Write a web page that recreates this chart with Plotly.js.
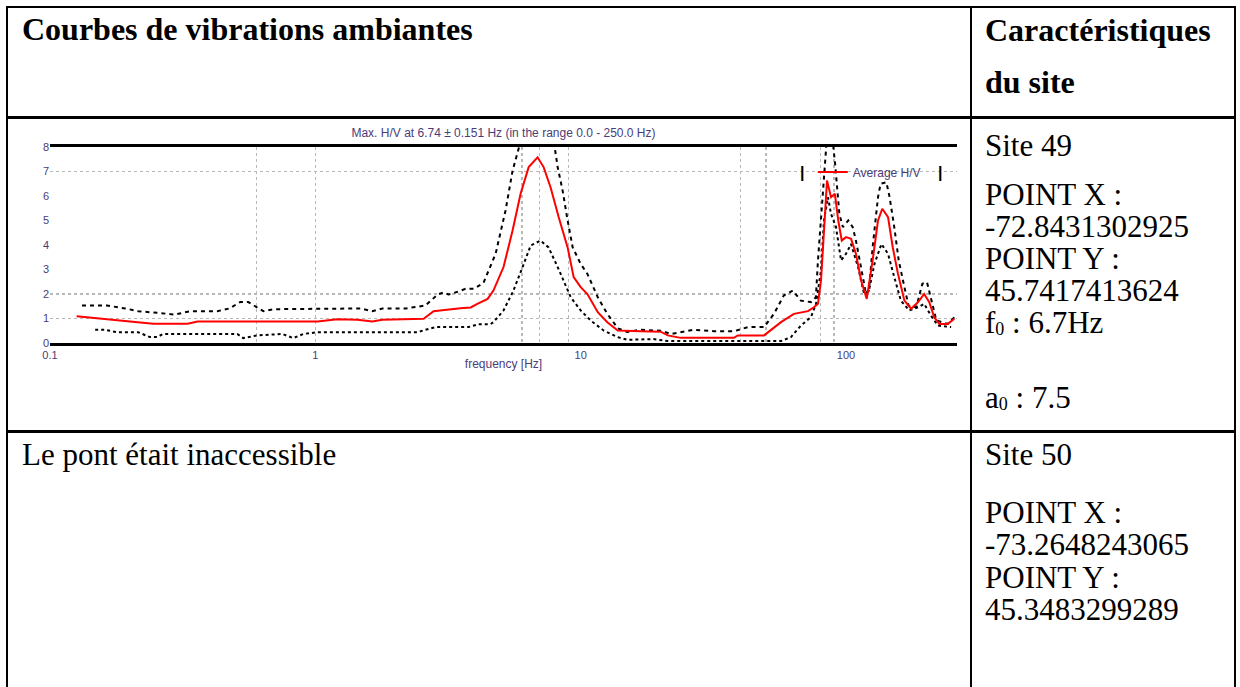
<!DOCTYPE html>
<html>
<head>
<meta charset="utf-8">
<script src="https://cdn.plot.ly/plotly-3.0.1.min.js"></script>
<style>
  html, body { margin:0; padding:0; background:#fff; }
  body { width:1240px; height:687px; position:relative; overflow:hidden;
         font-family:'Liberation Serif','Times New Roman',serif; color:#000; }
  .ln { position:absolute; background:#000; }
  .t { position:absolute; white-space:nowrap; font-size:31px; line-height:32px; }
  .h { position:absolute; white-space:nowrap; font-size:32px; line-height:40px; font-weight:bold; }
  .sb { font-size:18px; vertical-align:-2px; }
  #chart { position:absolute; left:10px; top:120px; width:960px; height:260px; }
</style>
</head>
<body>
<!-- table borders -->
<div class="ln" style="left:6px;top:6px;width:1230px;height:2px;"></div>
<div class="ln" style="left:6px;top:6px;width:2px;height:681px;"></div>
<div class="ln" style="left:970px;top:6px;width:2px;height:681px;"></div>
<div class="ln" style="left:1234px;top:6px;width:2px;height:681px;"></div>
<div class="ln" style="left:6px;top:116px;width:1230px;height:3px;"></div>
<div class="ln" style="left:6px;top:430px;width:1230px;height:3px;"></div>

<!-- header -->
<div class="h" style="left:22px;top:9px;">Courbes de vibrations ambiantes</div>
<div class="h" style="left:985px;top:10px;">Caractéristiques</div>
<div class="h" style="left:985px;top:62px;">du site</div>

<!-- row 1 -->
<div class="t" style="left:985px;top:130px;">Site 49</div>
<div class="t" style="left:985px;top:179px;">POINT X :</div>
<div class="t" style="left:985px;top:211px;">-72.8431302925</div>
<div class="t" style="left:985px;top:243px;">POINT Y :</div>
<div class="t" style="left:985px;top:275px;">45.7417413624</div>
<div class="t" style="left:985px;top:307px;">f<span class="sb">0</span> : 6.7Hz</div>
<div class="t" style="left:985px;top:382px;">a<span class="sb">0</span> : 7.5</div>

<!-- row 2 -->
<div class="t" style="left:22px;top:439px;">Le pont était inaccessible</div>
<div class="t" style="left:985px;top:439px;">Site 50</div>
<div class="t" style="left:985px;top:497px;">POINT X :</div>
<div class="t" style="left:985px;top:529px;">-73.2648243065</div>
<div class="t" style="left:985px;top:562px;">POINT Y :</div>
<div class="t" style="left:985px;top:594px;">45.3483299289</div>

<div id="chart"></div>

<script>
// ---- data ----
const avgFreq = [0.126,0.154,0.200,0.245,0.330,0.360,0.600,1.02,1.21,1.44,1.64,1.79,2.56,2.79,3.52,3.85,4.08,4.46,4.69,5.12,5.54,5.94,6.37,6.88,7.25,7.70,8.26,8.93,9.41,10.0,10.6,11.6,12.6,13.8,16.8,20.0,21.3,23.8,37.8,39.1,49.1,50.8,56.9,63.6,71.9,75.7,78.4,80.5,82.8,84.8,87.8,90.8,93.5,96.4,100,104.5,109,114,119.7,126,132,137,144,150,157,166,176,187,197,206,215,225,242,256];
const avgHV   = [1.09,0.99,0.88,0.79,0.79,0.88,0.88,0.88,0.97,0.95,0.88,0.95,0.99,1.30,1.42,1.45,1.60,1.80,2.14,3.10,4.60,6.10,7.18,7.58,7.18,6.36,5.14,3.90,2.69,2.28,2.00,1.26,0.85,0.51,0.48,0.46,0.31,0.21,0.21,0.31,0.31,0.44,0.85,1.19,1.30,1.46,1.60,2.55,5.00,6.63,5.95,6.09,5.00,4.18,4.32,4.25,3.64,2.55,1.80,3.37,5.00,5.48,5.14,3.91,2.82,1.73,1.40,1.67,2.00,1.67,1.05,0.78,0.78,0.99];

const upFreq = [0.132,0.145,0.164,0.192,0.215,0.260,0.296,0.338,0.427,0.474,0.521,0.559,0.604,0.637,0.695,0.757,0.893,1.14,1.28,1.48,1.64,1.79,1.95,2.19,2.60,2.72,2.89,3.04,3.18,3.37,3.68,3.95,4.30,4.78,5.21,5.54,5.78,6.00,6.90,7.90,8.19,8.55,8.93,9.33,10.0,10.6,11.6,12.6,13.8,15.0,16.8,20.0,21.9,26.7,31.8,37.8,42.7,49.1,53.5,58.3,63.0,67.6,73.8,77.0,78.4,81.9,85.0,88.0,91.0,94.4,97.3,102,106,109,114,119,122,126,132,135,142,146,152,158,166,172,184,194,202,210,219,242,256];
const upHV   = [1.53,1.53,1.53,1.41,1.30,1.22,1.16,1.30,1.30,1.41,1.67,1.67,1.46,1.30,1.38,1.38,1.41,1.41,1.41,1.41,1.30,1.41,1.41,1.41,1.53,1.73,1.98,2.06,1.98,2.06,2.21,2.21,2.45,3.64,5.41,7.04,7.72,8.40,8.80,8.30,7.18,6.22,5.00,3.90,3.23,2.82,1.87,1.19,0.60,0.45,0.54,0.50,0.37,0.54,0.48,0.48,0.65,0.65,1.19,1.94,2.14,1.73,1.67,1.87,3.37,6.36,8.60,8.80,7.30,5.27,4.73,5.00,4.73,4.18,3.10,2.00,2.14,3.91,5.95,6.50,6.56,5.95,4.73,3.37,2.28,1.53,1.46,2.42,2.48,1.73,0.92,0.78,1.05];

const loFreq = [0.148,0.161,0.179,0.215,0.238,0.253,0.267,0.296,0.323,0.450,0.508,0.535,0.604,0.750,0.826,0.901,1.02,1.36,1.52,2.43,2.60,2.84,3.78,4.12,4.57,4.69,5.12,5.58,6.04,6.48,7.06,7.57,8.19,8.63,9.17,10.0,10.9,12.2,13.8,15.0,16.8,18.8,21.3,24.5,26.7,37.8,49.1,52.1,56.9,62.0,67.6,73.8,77.1,80.5,82.6,85.5,87.8,91.7,95.8,100,104.5,111,117,122,128,136,144,152,161,173,187,197,209,222,249];
const loHV   = [0.54,0.54,0.44,0.44,0.24,0.24,0.37,0.37,0.37,0.37,0.37,0.20,0.31,0.37,0.20,0.37,0.44,0.44,0.44,0.44,0.54,0.65,0.65,0.77,0.77,0.85,1.33,2.14,3.10,3.98,4.18,3.90,3.10,2.55,1.87,1.33,0.92,0.51,0.24,0.13,0.13,0.16,0.08,0.08,0.10,0.10,0.10,0.08,0.08,0.24,0.71,1.06,1.60,2.96,5.00,5.95,5.27,4.73,3.37,3.64,4.04,3.10,2.00,2.14,3.23,4.04,3.64,2.69,1.73,1.33,1.46,1.60,1.12,0.71,0.65];

const xTickVals = [0.1, 1, 10, 100];
const xTickText = ['0.1', '1', '10', '100'];
const xGridVals = [0.1, 0.6, 1, 6, 7, 9, 40, 50, 80, 90];
const yGridVals = [1, 2, 7];
const chartTitle = 'Max. H/V at 6.74 ± 0.151 Hz (in the range 0.0 - 250.0 Hz)';
const legendName = 'Average H/V';

const txtColor = '#4a3c78';
const traces = [
  { x: upFreq, y: upHV, mode: 'lines', showlegend: false, hoverinfo: 'skip',
    line: { color: '#000', width: 2, dash: '4px,4px' } },
  { x: loFreq, y: loHV, mode: 'lines', showlegend: false, hoverinfo: 'skip',
    line: { color: '#000', width: 2, dash: '3px,3px' } },
  { x: avgFreq, y: avgHV, mode: 'lines', name: legendName,
    line: { color: '#ff0000', width: 2 } }
];

const layout = {
  width: 960, height: 260,
  margin: { l: 40, r: 13, t: 27, b: 37 },
  paper_bgcolor: 'rgba(0,0,0,0)', plot_bgcolor: '#fff',
  font: { family: 'Liberation Sans, Arial, sans-serif', size: 12, color: txtColor },
  title: { text: chartTitle, font: { size: 12, color: txtColor },
           x: 0.5, xref: 'paper', xanchor: 'center', y: 0.95, yref: 'container', yanchor: 'middle' },
  xaxis: {
    type: 'log', range: [-1, Math.log10(262)],
    tickmode: 'array', tickvals: xTickVals, ticktext: xTickText, ticks: '',
    showgrid: false, zeroline: false,
    showline: true, mirror: true, linewidth: 3, linecolor: '#000',
    tickfont: { size: 11, color: txtColor },
    title: { text: 'frequency [Hz]', font: { size: 12, color: txtColor }, standoff: 0 },
    minor: { tickmode: 'array', tickvals: xGridVals, ticks: '', showgrid: true,
             gridcolor: '#b8b8b8', gridwidth: 1.5, griddash: 'dot' }
  },
  yaxis: {
    range: [0, 8], tickmode: 'linear', tick0: 0, dtick: 1, ticks: '',
    showgrid: false, zeroline: false, showline: false,
    tickfont: { size: 11, color: txtColor },
    minor: { tickmode: 'array', tickvals: yGridVals, ticks: '', showgrid: true,
             gridcolor: '#b8b8b8', gridwidth: 1.5, griddash: 'dot' }
  },
  showlegend: true,
  legend: { x: 0.841, y: 0.872, xanchor: 'left', yanchor: 'middle',
            bgcolor: 'rgba(255,255,255,0)', borderwidth: 0,
            font: { size: 12, color: txtColor } },
  annotations: [
    { xref: 'paper', yref: 'paper', x: 0.829, y: 0.872, xanchor: 'center', yanchor: 'middle',
      text: '<b>|</b>', showarrow: false, font: { size: 16, color: '#000000' } },
    { xref: 'paper', yref: 'paper', x: 0.981, y: 0.872, xanchor: 'center', yanchor: 'middle',
      text: '<b>|</b>', showarrow: false, font: { size: 16, color: '#000000' } }
  ]
};

Plotly.newPlot('chart', traces, layout, { staticPlot: true, displayModeBar: false });
</script>
</body>
</html>
